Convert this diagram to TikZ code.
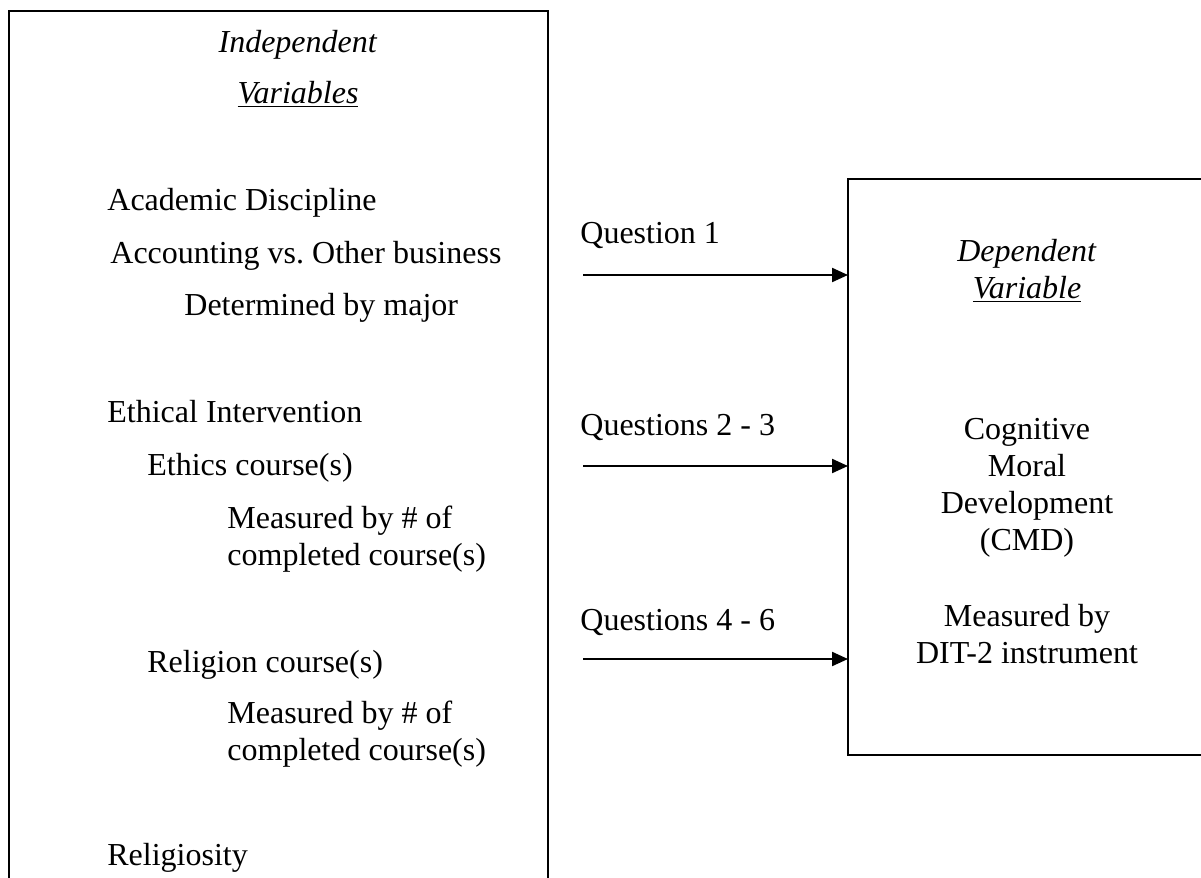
\documentclass[tikz,border=0pt]{standalone}
\usepackage{fontspec}
\setmainfont{Liberation Serif}
\usetikzlibrary{arrows.meta}

\begin{document}
\begin{tikzpicture}[x=0.5pt,y=-0.5pt,
  every node/.style={inner sep=0pt,font=\fontsize{16}{18.4}\selectfont},
  box/.style={draw,line width=1pt},
  arr/.style={line width=1.1pt,-{Triangle[length=8pt,width=7pt]}}]
\useasboundingbox (0,0) rectangle (1201,878);
\clip (0,0) rectangle (1201,878);
% left box
\draw[box] (9,11) rectangle (548,910);
\node[anchor=base] (ihead) at (298,53) {\textit{Independent}};
\node[anchor=base] (ivar) at (298,103) {\underline{\textit{Variables}}};
\node[anchor=base west] (acad) at (107,210) {Academic Discipline};
\node[anchor=base west] (acct) at (110,263) {Accounting vs.\ Other business};
\node[anchor=base west] (major) at (184,315) {Determined by major};
\node[anchor=base west] (ethint) at (107,422) {Ethical Intervention};
\node[anchor=base west] (ethc) at (147,475) {Ethics course(s)};
% base = last line
\node[anchor=base west,align=left] (ethm) at (227,565) {Measured by \# of\\completed course(s)};
\node[anchor=base west] (relc) at (147,672) {Religion course(s)};
\node[anchor=base west,align=left] (relm) at (227,760) {Measured by \# of\\completed course(s)};
\node[anchor=base west] (relig) at (107,865) {Religiosity};
% right box
\coordinate (dep) at (848,179);
\draw[box] (dep) rectangle (1206,755);
\node[anchor=base,align=center] (dhead) at (1027,298) {\textit{Dependent}\\\underline{\textit{Variable}}};
\node[anchor=base,align=center] (cmd) at (1027,550) {Cognitive\\Moral\\Development\\(CMD)};
\node[anchor=base,align=center] (dit) at (1027,663) {Measured by\\DIT-2 instrument};
% questions
\node[anchor=base west] (q1) at (580,243) {Question 1};
\node[anchor=base west] (q2) at (580,435) {Questions 2 - 3};
\node[anchor=base west] (q3) at (580,630) {Questions 4 - 6};
\coordinate (a1) at (583,275);
\coordinate (a2) at (583,466);
\coordinate (a3) at (583,659);
\draw[arr] (a1) -- (a1 -| dep);
\draw[arr] (a2) -- (a2 -| dep);
\draw[arr] (a3) -- (a3 -| dep);
\end{tikzpicture}
\end{document}
